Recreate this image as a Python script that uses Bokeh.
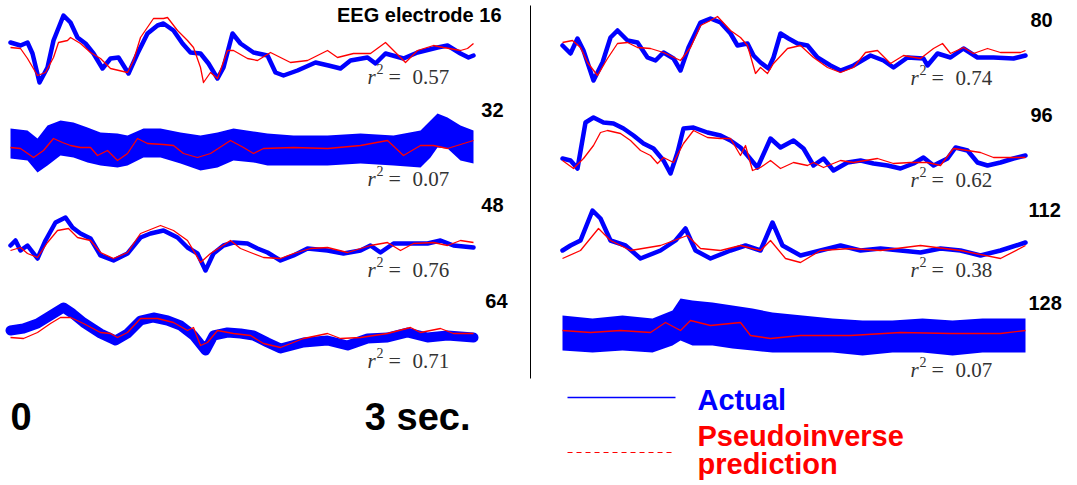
from bokeh.plotting import figure
from bokeh.models import Range1d, Label
from bokeh.embed import file_html
from bokeh.resources import INLINE

FS = 155.0  # samples per second (3 s window per trace)

# ---- electrode 16
e16_act_n = [0,10,17,22,29,37,43,53,60,67,75,83,92,100,108,118,127,137,147,153,163,172,180,190,198,207,213,222,230,243,257,265,273,287,305,318,330,340,357,365,375,393,407,427,437,450,458,463]
e16_act_v = [8,5,8,-3,-32,-17,10,35,28,13,7,-3,-18,-8,-7,-23,-3,17,25,27,20,7,-2,-3,-13,-28,-17,17,7,-2,-5,-22,-25,-20,-12,-15,-18,-10,-7,-13,-3,-8,-2,3,5,-3,-7,-5]
e16_pred_n = [0,10,17,27,35,43,48,57,60,70,80,90,100,117,123,130,143,153,157,167,177,183,190,193,200,207,217,223,237,247,260,280,297,317,327,343,360,375,383,395,407,423,433,450,457,463]
e16_pred_v = [3,2,-8,-25,-22,-7,8,10,13,7,-2,-8,-18,-22,-10,13,32,32,33,20,10,3,-17,-32,-22,-28,0,0,-8,-10,-2,-12,-10,0,-7,-3,-3,8,0,-12,0,5,3,0,2,7]

# ---- electrode 32 (actual shown as envelope)
e32_act_n = [0,17,27,37,50,63,77,90,107,117,133,150,170,190,207,223,243,257,283,317,350,383,410,420,427,437,450,463]
e32_act_hi = [17,15,7,20,25,23,18,13,12,10,17,17,13,10,13,17,14,12,10,10,12,10,15,25,32,28,20,15]
e32_act_lo = [-13,-15,-27,-20,-10,-12,-17,-20,-22,-20,-12,-12,-18,-25,-22,-15,-17,-20,-20,-20,-18,-20,-22,-12,-2,-3,-15,-18]
e32_pred_n = [0,10,23,33,43,52,60,70,80,87,97,107,117,127,137,153,163,173,187,200,220,233,243,253,283,317,350,377,393,410,423,437,463]
e32_pred_v = [-2,-3,-12,-5,7,3,0,-2,-2,-10,-5,-15,-8,7,2,1,0,-8,-12,-8,5,-2,-8,-3,-2,-3,0,5,-10,0,0,-3,5]

# ---- electrode 48
e48_act_n = [0,5,10,17,27,35,45,55,62,70,80,90,103,117,130,140,153,167,177,187,195,203,213,223,237,247,257,270,283,297,317,333,350,360,370,383,400,417,430,443,463]
e48_act_v = [0,5,-5,0,-13,5,23,28,18,12,7,-10,-15,-8,8,12,15,8,-2,-8,-25,-8,0,3,2,-3,-7,-15,-10,-3,-5,-8,-5,0,-7,2,2,2,5,0,-2]
e48_pred_n = [0,10,17,27,37,47,58,67,80,90,103,117,130,150,163,177,190,200,220,230,240,253,270,283,300,317,337,360,377,390,403,423,437,450,463]
e48_pred_v = [-5,-2,-8,-12,3,15,17,8,5,-7,-13,-7,12,20,15,5,-17,-8,5,-3,-7,-12,-13,-8,-3,-2,-7,0,3,-5,2,3,0,5,3]

# ---- electrode 64
e64_act_n = [0,13,27,40,53,62,73,90,105,117,130,143,157,170,183,195,203,217,230,243,257,270,293,317,337,357,377,397,417,437,463]
e64_act_v = [3,5,10,18,26,20,11,0,-7,0,13,16,13,8,-2,-17,-2,1,0,-2,-9,-15,-9,-7,-12,-5,-4,1,-4,-2,-4]
e64_pred_n = [0,13,27,40,50,60,73,90,100,107,117,130,147,163,177,183,190,197,207,223,240,253,270,293,317,330,350,377,400,410,430,443,463]
e64_pred_v = [-4,-5,1,10,16,16,10,1,0,-4,1,15,15,11,3,6,-12,-9,3,0,-2,-10,-14,-5,0,-5,-4,0,6,1,5,0,0]

# ---- electrode 80
e80_act_n = [0,8,15,21,31,40,48,55,65,75,85,93,101,111,118,126,138,148,158,168,175,185,191,198,206,211,218,226,235,245,255,268,278,291,308,321,331,345,361,365,375,388,401,415,431,451,463]
e80_act_v = [5,-3,12,0,-30,-12,13,20,10,8,-7,-10,-2,-8,-20,3,28,32,28,17,5,7,-5,-12,-18,-7,17,12,7,5,-7,-15,-20,-15,-5,-10,-17,-7,-8,-15,-3,-7,2,-7,-7,-8,-5]
e80_pred_n = [0,10,18,25,35,45,55,65,75,88,101,118,128,138,148,155,168,178,185,193,198,205,211,225,238,251,265,278,291,303,315,328,341,358,371,380,388,401,411,425,438,458,463]
e80_pred_v = [8,10,3,-12,-25,-8,7,8,3,2,-2,-10,3,25,30,34,20,13,5,-23,-17,-23,-13,2,5,-7,-17,-22,-17,-2,0,-13,-5,-8,2,7,-3,3,-3,2,-2,-2,0]

# ---- electrode 96
e96_act_n = [0,8,15,23,31,41,51,61,71,81,91,101,108,115,121,131,145,158,168,178,185,195,208,218,231,241,251,261,271,285,298,311,325,338,351,361,371,385,393,405,415,425,438,451,463]
e96_act_v = [-8,-10,-18,28,33,28,27,22,15,7,2,-10,-23,-2,22,23,18,15,10,3,-5,-17,12,3,10,2,-15,-8,-20,-12,-10,-13,-15,-18,-13,-7,-15,-8,3,0,-12,-15,-12,-8,-5]
e96_pred_n = [0,11,21,31,38,45,58,68,78,88,95,101,111,121,131,145,158,168,178,183,190,198,208,218,231,245,251,261,278,291,315,331,348,365,378,391,405,418,431,448,463]
e96_pred_v = [-10,-18,-8,5,18,20,17,10,0,-5,-13,-7,-12,7,20,13,12,12,-5,5,-20,-17,-10,-18,-12,-15,-12,-17,-10,-12,-8,-13,-12,-12,-15,2,0,-2,-7,-7,-7]

# ---- electrode 112
e112_act_n = [0,8,18,30,38,48,63,78,98,113,123,133,148,168,183,198,210,220,238,258,278,298,318,338,358,378,398,418,438,463]
e112_act_v = [-5,0,5,35,27,5,0,-13,-5,5,17,-5,-13,-5,0,-5,23,0,-10,-5,0,-5,-3,-5,-7,-3,-5,-10,-5,3]
e112_pred_n = [0,18,36,48,68,98,125,138,158,178,198,208,223,238,258,288,318,358,398,438,463]
e112_pred_v = [-13,-5,17,5,-5,0,10,-3,-5,0,-5,5,-13,-17,-5,-3,-5,0,-5,-13,0]

# ---- electrode 128 (actual shown as envelope)
e128_act_n = [0,30,60,90,110,118,130,150,170,190,210,240,270,300,330,360,390,420,463]
e128_act_hi = [15,12,15,12,20,32,30,28,25,22,18,15,12,10,10,12,10,12,12]
e128_act_lo = [-20,-22,-20,-22,-15,-10,-15,-15,-18,-20,-22,-22,-22,-25,-22,-22,-25,-22,-22]
e128_pred_n = [0,28,58,88,103,118,128,148,178,188,208,238,288,338,388,438,463]
e128_pred_v = [0,-2,0,-2,8,0,10,5,8,-5,-8,-5,-5,-2,-3,-3,0]

electrodes = ["EEG electrode 16", "32", "48", "64", "80", "96", "112", "128"]
r2_values = ["0.57", "0.07", "0.76", "0.71", "0.74", "0.62", "0.38", "0.07"]

BLUE = "#0000ff"
RED = "#ff0000"
PX_PER_SEC = 155.0
TXT = 8  # text baseline correction

# panel layout: (left x, baseline y, r2 baseline, label x, label baseline, label align)
layout = [
    (10, 50, 84, 501, 22, "right"),
    (10, 145, 186, 503, 117, "right"),
    (10, 245, 277, 503, 212, "right"),
    (10, 333, 368, 507, 308, "right"),
    (562, 50, 85, 1030, 27, "left"),
    (562, 150, 187, 1030, 122, "left"),
    (562, 245, 277, 1028, 217, "left"),
    (562, 330, 377, 1028, 310, "left"),
]

traces = [
    ("line", e16_act_n, e16_act_v, None, e16_pred_n, e16_pred_v, 4.5),
    ("band", e32_act_n, e32_act_hi, e32_act_lo, e32_pred_n, e32_pred_v, 0),
    ("line", e48_act_n, e48_act_v, None, e48_pred_n, e48_pred_v, 4.5),
    ("line", e64_act_n, e64_act_v, None, e64_pred_n, e64_pred_v, 10),
    ("line", e80_act_n, e80_act_v, None, e80_pred_n, e80_pred_v, 4.5),
    ("line", e96_act_n, e96_act_v, None, e96_pred_n, e96_pred_v, 4.5),
    ("line", e112_act_n, e112_act_v, None, e112_pred_n, e112_pred_v, 4.5),
    ("band", e128_act_n, e128_act_hi, e128_act_lo, e128_pred_n, e128_pred_v, 0),
]

W, H = 1075, 483
p = figure(width=W, height=H, x_range=Range1d(0, W), y_range=Range1d(-H, 0),
           output_backend="svg", toolbar_location=None, min_border=0,
           x_axis_type=None, y_axis_type=None)
p.grid.visible = False
p.outline_line_color = None
p.background_fill_color = "white"


def xs(x0, n):
    return [x0 + (k / FS) * PX_PER_SEC for k in n]


def ys(base, v):
    return [-base + a for a in v]


def label(x, y, text, align="left", font="Liberation Sans", style="bold", size="20px", color="black"):
    p.add_layout(Label(x=x, y=-(y - TXT), text=text, text_align=align, text_baseline="alphabetic",
                       text_font=font, text_font_style=style, text_font_size=size,
                       text_color=color))


for (kind, an, av, alo, pn, pv, lw), (x0, base, r2y, lx, ly, la), name, r2 in zip(
        traces, layout, electrodes, r2_values):
    if kind == "band":
        p.varea(x=xs(x0, an), y1=ys(base, av), y2=ys(base, alo), fill_color=BLUE)
    else:
        p.line(xs(x0, an), ys(base, av), line_color=BLUE, line_width=lw,
               line_join="round", line_cap="round")
    p.line(xs(x0, pn), ys(base, pv), line_color=RED, line_width=1.3, line_join="round")

    label(lx, ly, name, align=la)
    rx = 367 if x0 < 500 else 910
    label(rx, r2y, "r", font="Liberation Serif", style="italic", size="21px", color="#333333")
    label(rx + 9, r2y - 8, "2", font="Liberation Serif", style="normal", size="14px", color="#333333")
    label(rx + 21, r2y, "=", font="Liberation Serif", style="normal", size="22px", color="#333333")
    label(rx + 45, r2y, r2, font="Liberation Serif", style="normal", size="21px", color="#333333")

# separator between the two columns
p.segment(x0=[530], y0=[-5], x1=[530], y1=[-378], line_color="black", line_width=1)

# time scale
label(10, 424, "0", size="38px")
label(470, 424, "3 sec.", align="right", size="38px")

# legend
p.segment(x0=[567], y0=[-397], x1=[675], y1=[-397], line_color=BLUE, line_width=1.5)
p.segment(x0=[567], y0=[-452], x1=[675], y1=[-452], line_color=RED, line_width=1.2,
          line_dash="5 4")
label(697, 407, "Actual", size="29px", color=BLUE)
label(697, 443, "Pseudoinverse", size="29px", color=RED)
label(697, 471, "prediction", size="29px", color=RED)

open("out.html", "w").write(file_html(p, INLINE))
